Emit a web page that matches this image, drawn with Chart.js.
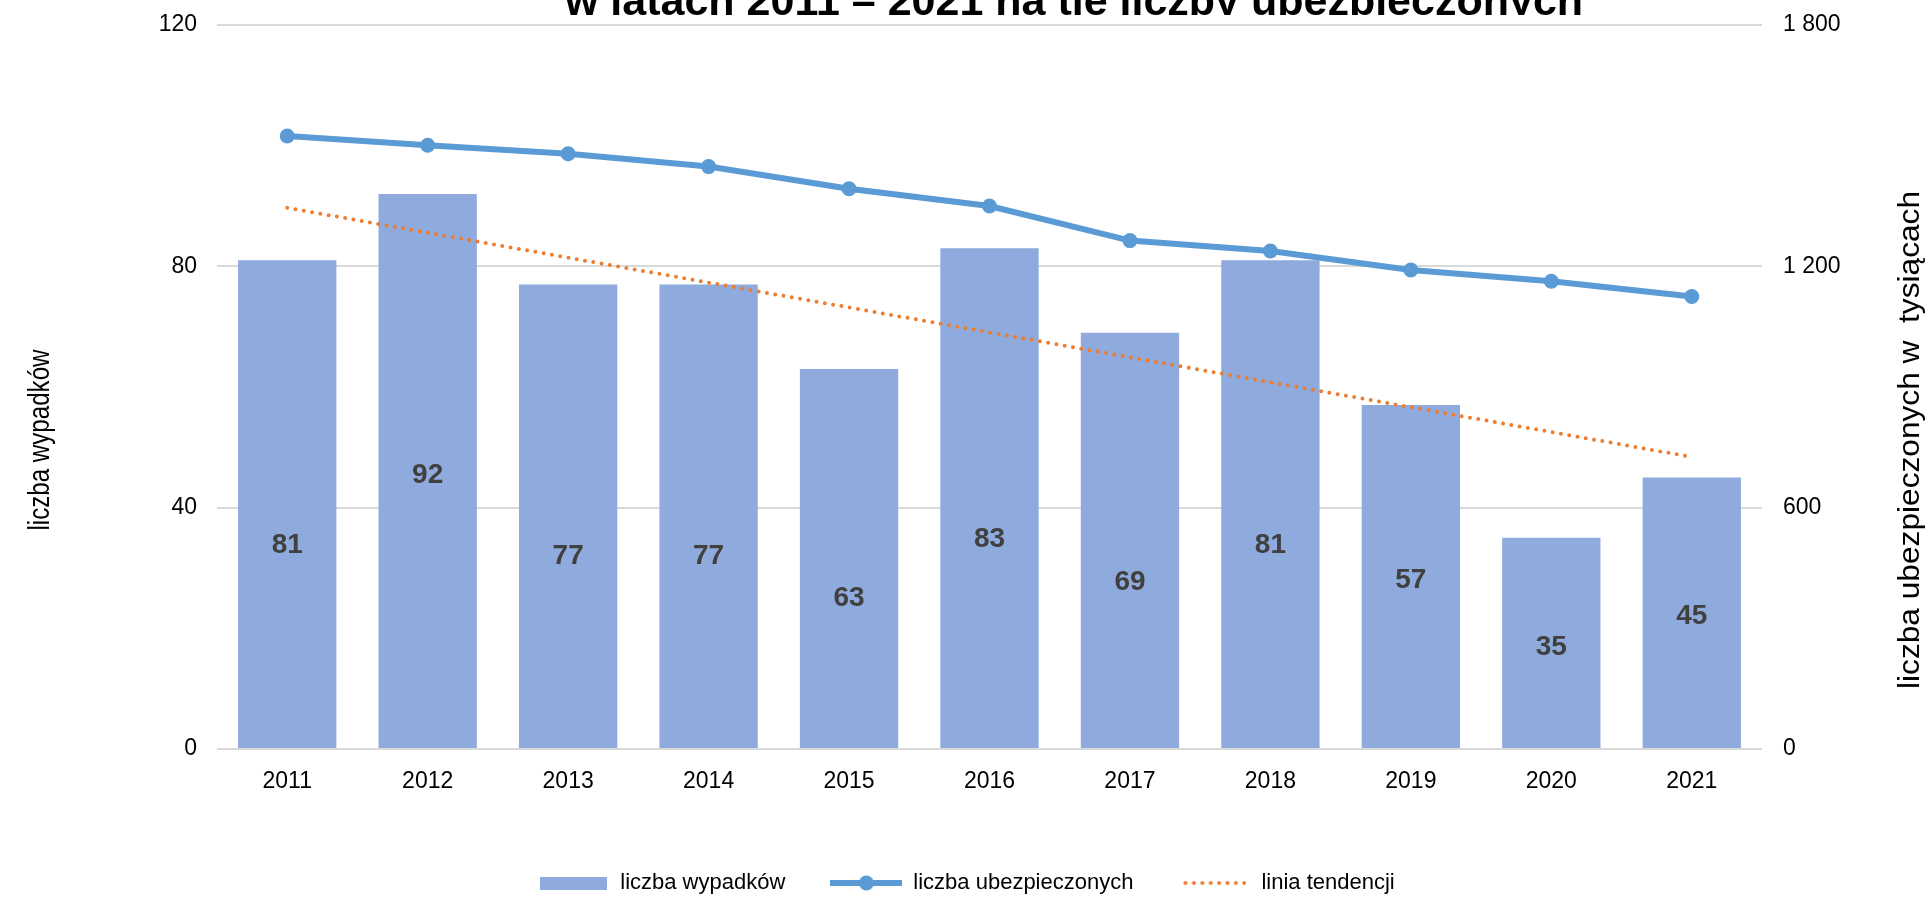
<!DOCTYPE html>
<html lang="pl">
<head>
<meta charset="utf-8">
<title>Wypadki przy pracy 2011-2021</title>
<script src="https://cdn.jsdelivr.net/npm/chart.js@4.4.1/dist/chart.umd.min.js"></script>
<style>
  html, body { margin: 0; padding: 0; background: #fff; overflow: hidden; }
  #wrap { width: 1932px; height: 897px; }
</style>
</head>
<body>
<div id="wrap"><canvas id="wykres" width="1932" height="897"></canvas></div>
<script>
  'use strict';

  // --- Dane ---
  const lata = ['2011', '2012', '2013', '2014', '2015', '2016', '2017', '2018', '2019', '2020', '2021'];
  const wypadki = [81, 92, 77, 77, 63, 83, 69, 81, 57, 35, 45];
  const ubezpieczeni = [1524, 1501, 1480, 1448, 1393, 1350, 1264, 1238, 1191, 1163, 1125];
  // linia tendencji: odczytane końce (lewa oś)
  const trendPoczatek = 89.7;
  const trendKoniec = 48.4;
  const tickiLewe = [0, 40, 80, 120];
  const tickiPrawe = [0, 600, 1200, 1800];

  const tytul = 'w latach 2011 – 2021 na tle liczby ubezpieczonych';
  const tytulOsiLewej = 'liczba wypadków';
  const tytulOsiPrawej = 'liczba ubezpieczonych w  tysiącach';
  const etykietyLegendy = ['liczba wypadków', 'liczba ubezpieczonych', 'linia tendencji'];

  // przesunięcie etykiet słupków względem środka słupka (px)
  const przesuniecieEtykiet = [41, 4, 40, 40, 40, 41, 42, 41, 4, 4, 4];

  const NIEBIESKI_SLUPEK = '#8FAADC';
  const NIEBIESKI_LINIA = '#5B9BD5';
  const POMARANCZ = '#ED7D31';
  const SIATKA = '#D9D9D9';
  const ARIAL = "'Liberation Sans', Arial, sans-serif";

  const trend = lata.map((_, i) => i === 0 ? trendPoczatek : (i === lata.length - 1 ? trendKoniec : null));

  // --- Próbki legendy ---
  function probka(w, h, rysuj) {
    const c = document.createElement('canvas');
    c.width = w; c.height = h;
    rysuj(c.getContext('2d'));
    return c;
  }
  const probkaSlupek = probka(67, 13, ctx => { ctx.fillStyle = NIEBIESKI_SLUPEK; ctx.fillRect(0, 0, 67, 13); });
  const probkaLinia = probka(72, 16, ctx => {
    ctx.strokeStyle = NIEBIESKI_LINIA; ctx.lineWidth = 6;
    ctx.beginPath(); ctx.moveTo(0, 8); ctx.lineTo(72, 8); ctx.stroke();
    ctx.fillStyle = NIEBIESKI_LINIA;
    ctx.beginPath(); ctx.arc(36, 8, 7.5, 0, Math.PI * 2); ctx.fill();
  });
  const probkaTrend = probka(64, 6, ctx => {
    ctx.fillStyle = POMARANCZ;
    for (let x = 3; x < 64; x += 8.4) { ctx.beginPath(); ctx.arc(x, 3, 2, 0, Math.PI * 2); ctx.fill(); }
  });
  const probki = [probkaSlupek, probkaLinia, probkaTrend];

  const formatTys = v => String(v).replace(/\B(?=(\d{3})+(?!\d))/g, ' ');

  // tytuł osi, pionowo, zwężony/rozciągnięty do zadanej długości
  function tytulOsi(ctx, tekst, x, y, dlugosc) {
    ctx.save();
    ctx.fillStyle = '#000';
    ctx.font = '29px ' + ARIAL;
    ctx.textAlign = 'center';
    ctx.textBaseline = 'middle';
    const skala = dlugosc / ctx.measureText(tekst).width;
    ctx.translate(x, y);
    ctx.rotate(-Math.PI / 2);
    ctx.scale(skala, 1);
    ctx.fillText(tekst, 0, 0);
    ctx.restore();
  }

  // --- Tytuł, tytuły osi i etykiety słupków ---
  const napisy = {
    id: 'napisy',
    afterDatasetsDraw(chart) {
      const ctx = chart.ctx;
      ctx.save();
      const meta = chart.getDatasetMeta(0);
      ctx.font = 'bold 28px ' + ARIAL;
      ctx.fillStyle = '#404040';
      ctx.textAlign = 'center';
      ctx.textBaseline = 'middle';
      meta.data.forEach((bar, i) => {
        const y = (bar.y + bar.base) / 2 + przesuniecieEtykiet[i];
        ctx.fillText(String(wypadki[i]), bar.x, y);
      });
      ctx.restore();
    },
    afterDraw(chart) {
      const ctx = chart.ctx;
      ctx.save();
      ctx.beginPath();
      ctx.rect(0, 0, chart.width, 15);
      ctx.clip();
      ctx.fillStyle = '#000';
      ctx.font = 'bold 43px ' + ARIAL;
      ctx.textAlign = 'center';
      ctx.textBaseline = 'alphabetic';
      ctx.fillText(tytul, 1074, 15);
      ctx.restore();

      tytulOsi(ctx, tytulOsiLewej, 41, 440, 181);
      tytulOsi(ctx, tytulOsiPrawej, 1911, 440, 498);
    }
  };

  // osie pionowe: stała szerokość, bez dodatkowego marginesu u góry
  const dopasujOs = szer => s => { s.width = szer; s.paddingTop = 0; s.paddingBottom = 0; };

  new Chart(document.getElementById('wykres'), {
    data: {
      labels: lata,
      datasets: [
        {
          type: 'bar',
          label: etykietyLegendy[0],
          data: wypadki,
          backgroundColor: NIEBIESKI_SLUPEK,
          borderWidth: 0,
          categoryPercentage: 0.7,
          barPercentage: 1,
          yAxisID: 'y',
          order: 3
        },
        {
          type: 'line',
          label: etykietyLegendy[1],
          data: ubezpieczeni,
          borderColor: NIEBIESKI_LINIA,
          backgroundColor: NIEBIESKI_LINIA,
          borderWidth: 6,
          pointRadius: 7.5,
          pointBorderWidth: 0,
          pointBackgroundColor: NIEBIESKI_LINIA,
          tension: 0,
          yAxisID: 'y1',
          order: 1
        },
        {
          type: 'line',
          label: etykietyLegendy[2],
          data: trend,
          borderColor: POMARANCZ,
          borderWidth: 4,
          borderDash: [0, 8.4],
          borderCapStyle: 'round',
          pointRadius: 0,
          spanGaps: true,
          tension: 0,
          yAxisID: 'y',
          order: 2
        }
      ]
    },
    options: {
      responsive: false,
      animation: false,
      layout: { padding: { top: 25, left: 0, right: 0, bottom: -7 } },
      plugins: {
        tooltip: { enabled: false },
        title: { display: false },
        legend: {
          display: true,
          position: 'bottom',
          labels: {
            usePointStyle: true,
            pointStyleWidth: 72,
            padding: 45,
            color: '#595959',
            font: { size: 22, family: ARIAL },
            generateLabels: () => etykietyLegendy.map((t, i) => ({
              text: t,
              pointStyle: probki[i],
              fillStyle: 'transparent',
              strokeStyle: 'transparent',
              lineWidth: 0,
              hidden: false,
              datasetIndex: i
            }))
          }
        }
      },
      scales: {
        x: {
          type: 'category',
          offset: true,
          grid: { display: false, drawTicks: false },
          border: { display: false },
          ticks: { color: '#000', font: { size: 23, family: ARIAL }, padding: 19, maxRotation: 0 },
          afterFit: s => { s.height = 78; }
        },
        y: {
          position: 'left',
          min: 0,
          max: 120,
          afterBuildTicks: s => { s.ticks = tickiLewe.map(v => ({ value: v })); },
          grid: { color: SIATKA, lineWidth: 2, drawTicks: false },
          border: { display: false },
          ticks: { color: '#000', font: { size: 23, family: ARIAL }, padding: 20 },
          afterFit: dopasujOs(217)
        },
        y1: {
          position: 'right',
          min: 0,
          max: 1800,
          afterBuildTicks: s => { s.ticks = tickiPrawe.map(v => ({ value: v })); },
          grid: { display: false, drawTicks: false },
          border: { display: false },
          ticks: { color: '#000', font: { size: 23, family: ARIAL }, padding: 21, callback: v => formatTys(v) },
          afterFit: dopasujOs(170)
        }
      }
    },
    plugins: [napisy]
  });
</script>
</body>
</html>
